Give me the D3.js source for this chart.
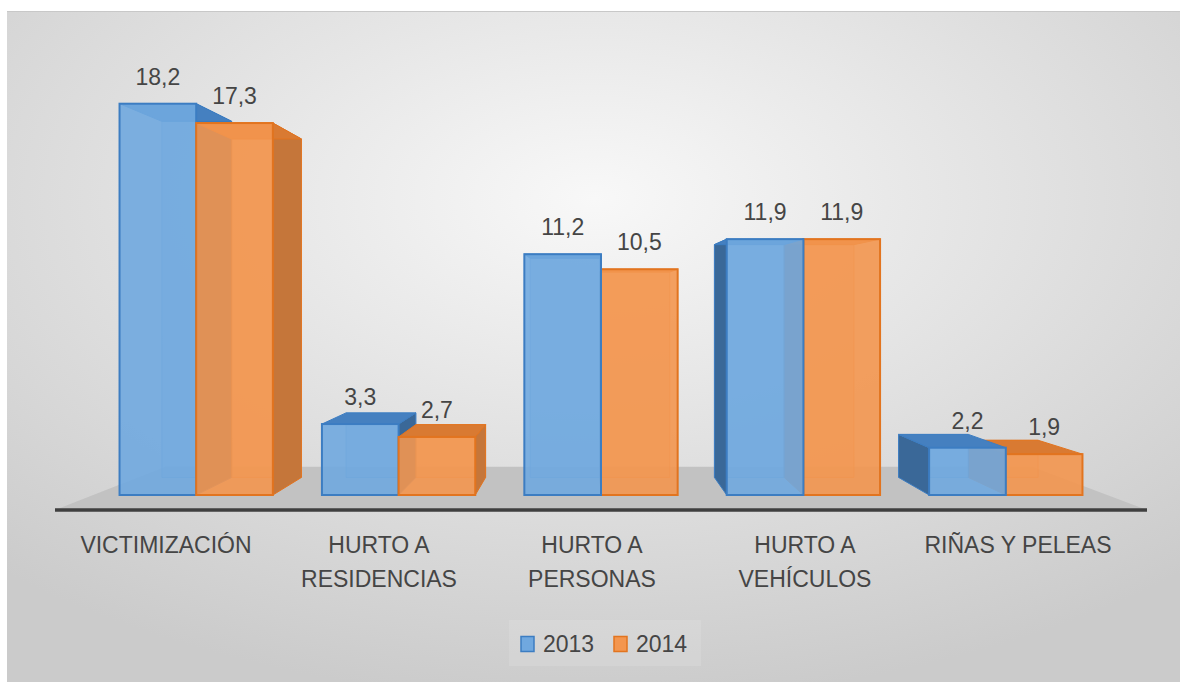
<!DOCTYPE html>
<html>
<head>
<meta charset="utf-8">
<script src="https://cdn.jsdelivr.net/npm/d3@7"></script>
<style>
  body { margin: 0; background: #fff; }
  text { font-family: "Liberation Sans", Arial, sans-serif; fill: #454545; }
</style>
</head>
<body>
<div id="target"></div>
<script>
// data
const categories = ["VICTIMIZACIÓN", "HURTO A\nRESIDENCIAS", "HURTO A\nPERSONAS", "HURTO A\nVEHÍCULOS", "RIÑAS Y PELEAS"]
const years = ["2013", "2014"]
const values2013 = [18.2, 3.3, 11.2, 11.9, 2.2]
const values2014 = [17.3, 2.7, 10.5, 11.9, 1.9]

const width = 1180, height = 682
const vp = { x: 590, y: 300 }      // vanishing point of the 3d view
const barDepth = 0.09, floorDepth = 0.206
const baseY = 495, floorY = 510

const colors = {
    "2013": { front: "#70a8df", top: "#4580c0", side: "#3a6898", stroke: "#3c7dc2" },
    "2014": { front: "#f3964f", top: "#d97a32", side: "#c5763a", stroke: "#e2741f" }
}

let fmt = d3.formatLocale({ decimal: ",", thousands: ".", grouping: [3], currency: ["", ""] }).format(".1f")

let svg = d3.select("#target").append("svg").attr("width", width).attr("height", height)

// background
let defs = svg.append("defs")
let grad = defs.append("radialGradient").attr("id", "bg")
    .attr("cx", "50%").attr("cy", "28%").attr("r", "75%")
grad.append("stop").attr("offset", "0%").attr("stop-color", "#f8f8f8")
grad.append("stop").attr("offset", "100%").attr("stop-color", "#cbcbcb")
svg.append("rect").attr("x", 7).attr("y", 11).attr("width", width - 7).attr("height", height - 11)
    .attr("fill", "url(#bg)")
svg.append("line").attr("x1", 7).attr("x2", width).attr("y1", 11.5).attr("y2", 11.5)
    .attr("stroke", "#c8c8c8").attr("stroke-width", 1)

// scales
let data = categories.map((c, i) => ({ cat: c, "2013": values2013[i], "2014": values2014[i] }))
let x0 = d3.scaleBand().domain(categories).range([95, 1107]).padding(0)
let x1 = d3.scaleBand().domain(years).range([0, x0.bandwidth()]).paddingInner(0).paddingOuter(0.32)
let y = d3.scaleLinear().domain([0, 20]).range([baseY, baseY - 20 * 21.5])
let labelX = d3.scalePoint().domain(categories).range([166, 1018])

let proj = (px, py, k) => [px + k * (vp.x - px), py + k * (vp.y - py)]
let poly = pts => pts.map(p => p.join(",")).join(" ")

// floor
let floorLeft = 55, floorRight = 1147
svg.append("polygon")
    .attr("points", poly([[floorLeft, floorY], [floorRight, floorY],
        proj(floorRight, floorY, floorDepth), proj(floorLeft, floorY, floorDepth)]))
    .attr("fill", "#c2c2c2")
svg.append("line").attr("x1", floorLeft).attr("x2", floorRight).attr("y1", floorY).attr("y2", floorY)
    .attr("stroke", "#3f3f3f").attr("stroke-width", 3.5)

// bars
let bars = []
data.forEach(d => {
    years.forEach(yr => {
        let xa = x0(d.cat) + x1(yr)
        bars.push({ cat: d.cat, year: yr, value: d[yr], xa: xa, xb: xa + x1.bandwidth() })
    })
})
// far bars first so the nearer ones cover them
bars.sort((a, b) => Math.abs((b.xa + b.xb) / 2 - vp.x) - Math.abs((a.xa + a.xb) / 2 - vp.x))

let barG = svg.append("g")
bars.forEach(b => {
    let c = colors[b.year]
    let top = y(b.value)
    let g = barG.append("g")
    let leftSide = (b.xa + b.xb) / 2 > vp.x
    let sx = leftSide ? b.xa : b.xb
    // back outline seen through the transparent bar
    g.append("polygon")
        .attr("points", poly([proj(b.xa, top, barDepth), proj(b.xb, top, barDepth),
            proj(b.xb, baseY, barDepth), proj(b.xa, baseY, barDepth)]))
        .attr("fill", c.front).attr("fill-opacity", 0.35)
        .attr("stroke", c.stroke).attr("stroke-opacity", 0.5).attr("stroke-width", 1)
    // side face
    g.append("polygon")
        .attr("points", poly([[sx, top], proj(sx, top, barDepth), proj(sx, baseY, barDepth), [sx, baseY]]))
        .attr("fill", c.side).attr("stroke", c.stroke).attr("stroke-width", 1)
    // top face
    g.append("polygon")
        .attr("points", poly([[b.xa, top], [b.xb, top], proj(b.xb, top, barDepth), proj(b.xa, top, barDepth)]))
        .attr("fill", c.top).attr("stroke", c.stroke).attr("stroke-width", 1)
    // front face
    g.append("rect")
        .attr("x", b.xa).attr("y", top).attr("width", b.xb - b.xa).attr("height", baseY - top)
        .attr("fill", c.front).attr("fill-opacity", 0.9)
        .attr("stroke", c.stroke).attr("stroke-width", 2)
})

// value labels
svg.append("g").selectAll("text").data(bars).enter().append("text")
    .attr("x", d => (d.xa + d.xb) / 2)
    .attr("y", d => y(d.value) - 19)
    .attr("text-anchor", "middle")
    .attr("font-size", 23)
    .text(d => fmt(d.value))

// category labels
let catG = svg.append("g")
categories.forEach(c => {
    let t = catG.append("text").attr("text-anchor", "middle").attr("font-size", 23)
    c.split("\n").forEach((line, i) => {
        t.append("tspan").attr("x", labelX(c)).attr("y", 553 + i * 34).text(line)
    })
})

// legend
let legend = svg.append("g")
legend.append("rect").attr("x", 509).attr("y", 620).attr("width", 192).attr("height", 46)
    .attr("fill", "#ffffff").attr("fill-opacity", 0.12)
let legendX = d3.scaleOrdinal().domain(years).range([521, 614])
years.forEach(yr => {
    let lx = legendX(yr)
    legend.append("rect").attr("x", lx).attr("y", 636.5).attr("width", 13).attr("height", 15)
        .attr("fill", colors[yr].front).attr("stroke", colors[yr].stroke).attr("stroke-width", 1.5)
    legend.append("text").attr("x", lx + 22).attr("y", 652).attr("font-size", 23).text(yr)
})
</script>
</body>
</html>
